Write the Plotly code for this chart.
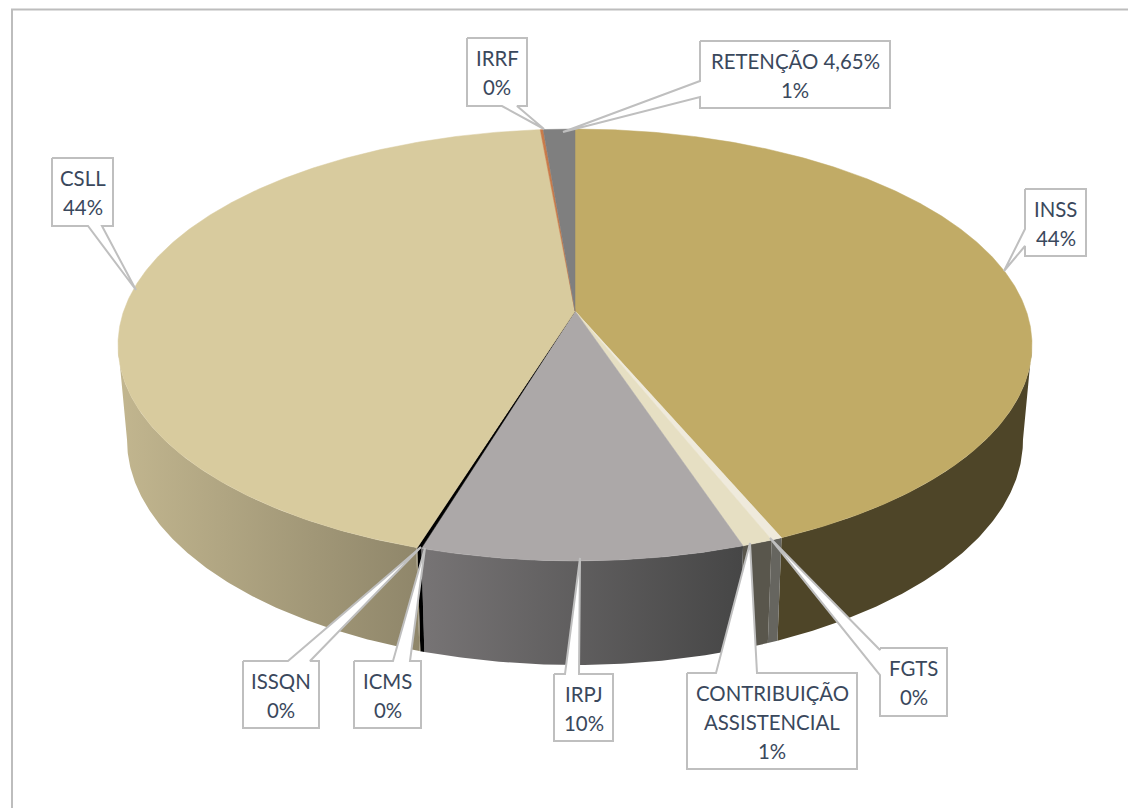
import numpy as np
import plotly.graph_objects as go

# ---- data ----
CATEGORIES = ["INSS", "FGTS", "CONTRIBUIÇÃO ASSISTENCIAL", "IRPJ", "ICMS", "ISSQN", "CSLL", "IRRF", "RETENÇÃO 4,65%"]
VALUES = [43.6, 0.33, 0.94, 9.8, 0.13, 0.03, 43.75, 0.12, 1.3]
SHOWN_PERCENT = ["44%", "0%", "1%", "10%", "0%", "0%", "44%", "0%", "1%"]

# ---- styles ----
TOP_COLORS = ["#C1AB66", "#EFEADC", "#E6DFC3", "#ACA8A8", "#000000", "#D8CB9E", "#D8CB9E", "#C97B4A", "#7F7F7F"]
SIDE_SCALES = [
    ["#4E4528", "#4E4528"], ["#66655F", "#66655F"], ["#59564C", "#59564C"],
    ["#777475", "#464646"], ["#000000", "#000000"], ["#968C6E", "#968C6E"],
    ["#C2B68F", "#8F866A"], ["#8F866A", "#8F866A"], ["#555555", "#555555"],
]
TEXT_COLOR = "#3A485C"
BORDER = "#BFBFBF"

# ---- label layout: box (x0, y0, x1, y1), pointer base A, pointer base B, tip ----
LABEL_LAYOUT = {
    "INSS": ((1025, 189, 1086, 256), (1025, 229), (1025, 246), (1004, 271)),
    "FGTS": ((880, 648, 947, 716), (880, 650), (880, 675), (770, 538)),
    "CONTRIBUIÇÃO ASSISTENCIAL": ((687, 673, 857, 769), (716, 673), (757, 673), (750, 543)),
    "IRPJ": ((554, 674, 613, 741), (565, 674), (579, 674), (580, 558)),
    "ICMS": ((354, 661, 421, 728), (393, 661), (410, 661), (425, 548)),
    "ISSQN": ((243, 661, 319, 728), (288, 661), (310, 661), (421, 547)),
    "CSLL": ((52, 158, 113, 226), (88, 226), (102, 226), (136, 290)),
    "IRRF": ((467, 38, 527, 106), (502, 106), (517, 106), (544, 129)),
    "RETENÇÃO 4,65%": ((700, 41, 890, 108), (700, 81), (700, 97), (563, 132)),
}
LABEL_LINES = {
    "CONTRIBUIÇÃO ASSISTENCIAL": ["CONTRIBUIÇÃO", "ASSISTENCIAL"],
}

# ---- perspective pie geometry ----
CX = 575
K = 0.1574
TOP = dict(A=451.3, B=210.6, Y0=311.0)
BOTTOM = dict(A=442.4, B=219.4, Y0=404.6)


def rim(pct, plane):
    t = np.asarray(pct) / 100 * 2 * np.pi
    u, v = np.sin(t), -np.cos(t)
    w = 1 - K * v
    return CX + plane["A"] * u / w, plane["Y0"] + plane["B"] * v / w


def arc(p0, p1, plane):
    n = max(2, int(abs(p1 - p0) * 8) + 2)
    return rim(np.linspace(p0, p1, n), plane)


edges = np.concatenate([[0], np.cumsum(VALUES)])
edges = edges / edges[-1] * 100

fig = go.Figure()
SIDE_MIN, SIDE_MAX = 27.5, 72.5

# side walls (only the part facing the viewer; the top surface is drawn over them)
for i, name in enumerate(CATEGORIES):
    p0, p1 = max(edges[i], SIDE_MIN), min(edges[i + 1], SIDE_MAX)
    if p1 <= p0:
        continue
    tx, ty = arc(p0, p1, TOP)
    bx, by = arc(p1, p0, BOTTOM)
    sc = SIDE_SCALES[i]
    fig.add_trace(go.Scatter(
        x=np.concatenate([tx, bx]), y=np.concatenate([ty, by]),
        mode="lines", fill="toself", line=dict(width=0),
        fillgradient=dict(type="horizontal", colorscale=[[0, sc[0]], [1, sc[1]]]),
        hoverinfo="skip", showlegend=False,
    ))

# top surface
for i, name in enumerate(CATEGORIES):
    ax, ay = arc(edges[i], edges[i + 1], TOP)
    fig.add_trace(go.Scatter(
        x=np.concatenate([[CX], ax, [CX]]),
        y=np.concatenate([[TOP["Y0"]], ay, [TOP["Y0"]]]),
        mode="lines", fill="toself", fillcolor=TOP_COLORS[i],
        line=dict(width=0.5, color=TOP_COLORS[i]), name=name,
        hoverinfo="name", showlegend=False,
    ))

# callout labels
annotations = []
for i, name in enumerate(CATEGORIES):
    (x0, y0, x1, y1), a, b, tip = LABEL_LAYOUT[name]
    # insert the pointer into the edge it leaves from
    if a[1] == y0 and b[1] == y0:
        pts = [(x0, y0), a, tip, b, (x1, y0), (x1, y1), (x0, y1), (x0, y0)]
    elif a[1] == y1 and b[1] == y1:
        pts = [(x0, y0), (x1, y0), (x1, y1), b, tip, a, (x0, y1), (x0, y0)]
    else:
        pts = [(x0, y0), (x1, y0), (x1, y1), (x0, y1), b, tip, a, (x0, y0)]
    fig.add_trace(go.Scatter(
        x=[p[0] for p in pts], y=[p[1] for p in pts],
        mode="lines", fill="toself", fillcolor="white",
        line=dict(width=2, color=BORDER), hoverinfo="skip", showlegend=False,
    ))
    lines = LABEL_LINES.get(name, [name]) + [SHOWN_PERCENT[i]]
    yc = (y0 + y1) / 2 + 0.5
    for j, line in enumerate(lines):
        annotations.append(dict(
            x=(x0 + x1) / 2, y=yc + (j - (len(lines) - 1) / 2) * 29,
            xref="x", yref="y", text=line, showarrow=False,
            font=dict(family="Lato", size=20.4, color=TEXT_COLOR),
            xanchor="center", yanchor="middle",
        ))

# The page keeps its default 8 px body margin, so the plot starts at 8,8
fig.update_layout(
    width=1128, height=800,
    margin=dict(l=0, r=0, t=0, b=0),
    paper_bgcolor="white", plot_bgcolor="white",
    xaxis=dict(range=[8, 1136], visible=False, fixedrange=True),
    yaxis=dict(range=[808, 8], visible=False, fixedrange=True),
    annotations=annotations,
    shapes=[dict(type="rect", xref="x", yref="y", x0=12, y0=9.5, x1=1200, y1=1000,
                 line=dict(color="#BDBDBD", width=2), fillcolor="rgba(0,0,0,0)", layer="below")],
)
fig.write_html("out.html")
